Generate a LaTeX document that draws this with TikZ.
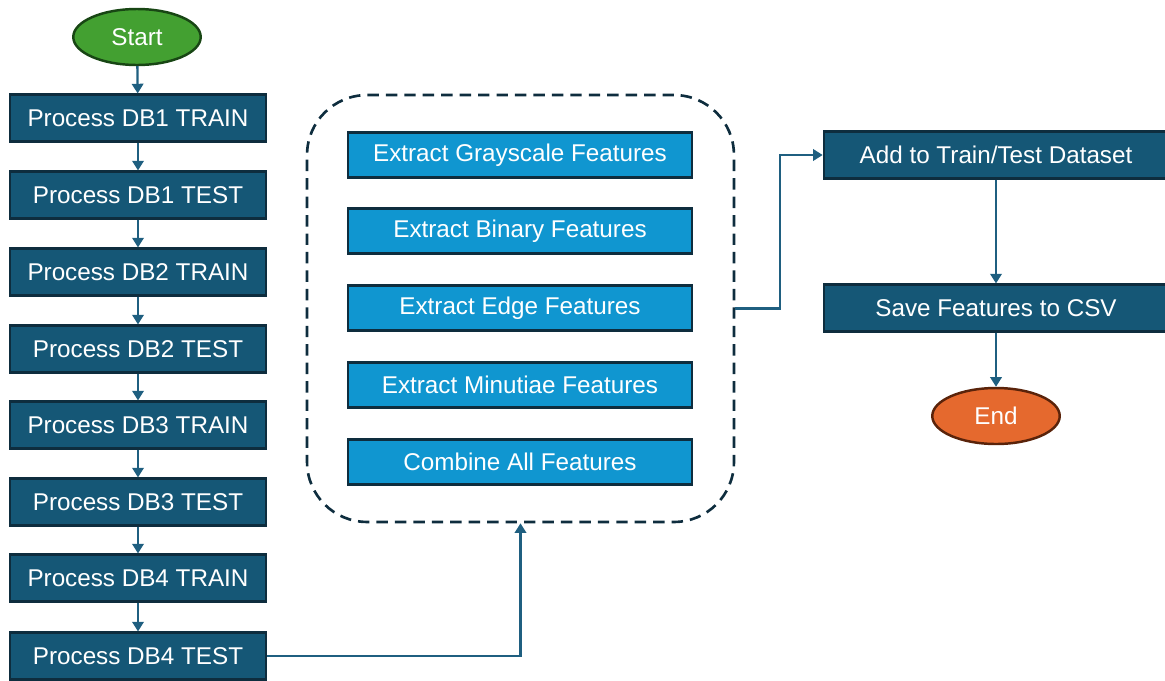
\documentclass[tikz,border=0pt]{standalone}
\usepackage{fontspec}
\setmainfont{Liberation Sans}
\usetikzlibrary{shapes.geometric,arrows.meta}

\definecolor{procblue}{RGB}{21,87,118}
\definecolor{featblue}{RGB}{16,150,208}
\definecolor{edgedark}{RGB}{14,45,62}
\definecolor{linkblue}{RGB}{31,95,128}
\definecolor{startgreen}{RGB}{67,160,49}
\definecolor{startedge}{RGB}{24,70,20}
\definecolor{endorange}{RGB}{229,105,46}
\definecolor{endedge}{RGB}{90,35,10}

\tikzset{
  procbox/.style={draw=edgedark, line width=1.5pt, fill=procblue, text=white,
    minimum width=5.12cm, minimum height=0.93cm, inner sep=0pt},
  featbox/.style={procbox, fill=featblue, minimum width=6.88cm, minimum height=0.9cm},
  terminal/.style={ellipse, line width=1.4pt, text=white,
    minimum width=2.55cm, minimum height=1.12cm, inner sep=0pt},
  link/.style={draw=linkblue, line width=1.3pt, -{Triangle[length=5.5pt,width=6.5pt]}}
}

\begin{document}
\begin{tikzpicture}[x=0.02cm, y=-0.02cm, font=\fontsize{13.8}{16}\selectfont]
  \useasboundingbox (0,0) rectangle (1165,680);

  % Start
  \node[terminal, draw=startedge, fill=startgreen] (start) at (137,37) {Start};

  % Databases, one after the other
  \foreach \y/\db/\set [count=\i] in {118/1/TRAIN, 195/1/TEST, 272/2/TRAIN, 349/2/TEST,
      425/3/TRAIN, 502/3/TEST, 578/4/TRAIN, 656/4/TEST}
    \node[procbox] (p\i) at (138,\y) {Process DB\db\ \set};

  \draw[link] (start) -- (p1);
  \foreach \i [count=\j from 2] in {1,...,7}
    \draw[link] (p\i) -- (p\j);

  % Feature extraction group
  \node[draw=edgedark, line width=1.5pt, dash pattern=on 6.5pt off 4pt,
    rounded corners=1.2cm, minimum width=8.54cm, minimum height=8.54cm] (group) at (520.5,308.5) {};
  \node[featbox] (gray) at (520,155) {Extract Grayscale Features};
  \node[featbox] (bin)  at (520,231) {Extract Binary Features};
  \node[featbox] (edge) at (520,308) {Extract Edge Features};
  \node[featbox] (mnt)  at (520,385) {Extract Minutiae Features};
  \node[featbox] (comb) at (520,462) {Combine All Features};

  \draw[link] (p8.east) -| (group.south);

  % Output
  \node[procbox, minimum width=6.88cm] (add)  at (996,155) {Add to Train/Test Dataset};
  \node[procbox, minimum width=6.88cm] (save) at (996,308) {Save Features to CSV};
  \node[terminal, draw=endedge, fill=endorange] (end) at (996,416) {End};

  \draw[link] (group.east) -- ++(45,0) |- (add.west);
  \draw[link] (add) -- (save);
  \draw[link] (save) -- (end);

\end{tikzpicture}
\end{document}
